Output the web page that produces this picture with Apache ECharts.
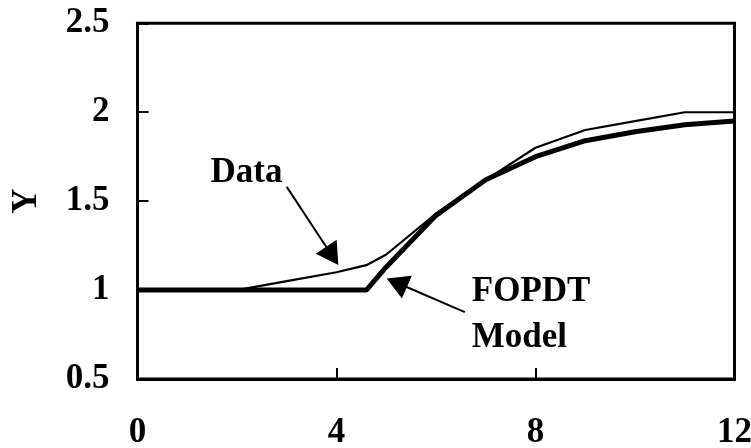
<!DOCTYPE html>
<html>
<head>
<meta charset="utf-8">
<script src="https://cdn.jsdelivr.net/npm/echarts@6/dist/echarts.min.js"></script>
<style>html,body{margin:0;padding:0;background:#fff}#c{width:751px;height:448px}</style>
</head>
<body>
<div id="c"></div>
<script>
var timePoints = [0, 1, 2, 3, 4, 4.6, 5, 6, 7, 8, 9, 10, 11, 12];
var dataValues = [1, 1, 1, 1.05, 1.1, 1.14, 1.2, 1.43, 1.62, 1.8, 1.9, 1.95, 2.0, 2.0];
var modelValues = [1, 1, 1, 1, 1, 1, 1.13, 1.42, 1.62, 1.75, 1.84, 1.89, 1.93, 1.95];
var xTicks = [0, 4, 8, 12];
var yTicks = [0.5, 1, 1.5, 2, 2.5];
var dataLabelPos = [2.19, 1.657];
var modelLabelPos = [6.72, 0.86];
var dataArrow = [[3.0, 1.58], [3.915, 1.192]];
var modelArrow = [[6.58, 0.876], [5.212, 1.041]];

var FONT = 'Liberation Serif, Times New Roman, serif';
function pairs(xs, ys) { return xs.map(function (x, i) { return [x, ys[i]]; }); }

var chart = echarts.init(document.getElementById('c'), null, { renderer: 'canvas' });
var textStyle = { fontFamily: FONT, fontWeight: 'bold', fontSize: 35, color: '#000' };
chart.setOption({
  animation: false,
  backgroundColor: '#fff',
  grid: { left: 137.5, right: 16.5, top: 23.3, bottom: 69, containLabel: false, outerBoundsMode: 'none', show: true, borderColor: '#000', borderWidth: 3, backgroundColor: 'transparent' },
  xAxis: {
    type: 'value', min: xTicks[0], max: xTicks[xTicks.length - 1], interval: 4,
    axisLine: { show: true, onZero: false, lineStyle: { color: '#000', width: 3 } },
    axisTick: { show: true, inside: true, length: 11, lineStyle: { color: '#000', width: 2 } },
    axisLabel: Object.assign({ margin: 36 }, textStyle),
    splitLine: { show: false }
  },
  yAxis: {
    type: 'value', min: yTicks[0], max: yTicks[yTicks.length - 1], interval: 0.5,
    name: 'Y', nameLocation: 'middle', nameGap: 93, nameRotate: 90,
    nameTextStyle: textStyle,
    axisLine: { show: true, onZero: false, lineStyle: { color: '#000', width: 3 } },
    axisTick: { show: true, inside: true, length: 11, lineStyle: { color: '#000', width: 2 } },
    axisLabel: Object.assign({ margin: 28, formatter: function (v) { return String(v); } }, textStyle),
    splitLine: { show: false }
  },
  series: [
    {
      name: 'Data', type: 'line', data: pairs(timePoints, dataValues),
      symbol: 'none', lineStyle: { color: '#000', width: 2.2 }, z: 3,
      markLine: {
        silent: true, symbol: ['none', 'triangle'], symbolSize: [25, 22],
        label: { show: false }, lineStyle: { color: '#000', width: 2, type: 'solid' },
        data: [[{ coord: dataArrow[0] }, { coord: dataArrow[1] }], [{ coord: modelArrow[0] }, { coord: modelArrow[1] }]]
      },
      markPoint: {
        silent: true, symbol: 'rect', symbolSize: 1, itemStyle: { color: 'rgba(0,0,0,0)' },
        data: [
          { coord: dataLabelPos, label: Object.assign({ show: true, position: 'inside', formatter: 'Data', align: 'center', verticalAlign: 'middle' }, textStyle) },
          { coord: modelLabelPos, label: Object.assign({ show: true, position: 'inside', formatter: 'FOPDT\nModel', align: 'left', verticalAlign: 'middle', lineHeight: 46 }, textStyle) }
        ]
      }
    },
    {
      name: 'FOPDT Model', type: 'line', data: pairs(timePoints, modelValues),
      symbol: 'none', lineStyle: { color: '#000', width: 5 }, z: 4
    }
  ]
});
</script>
</body>
</html>
